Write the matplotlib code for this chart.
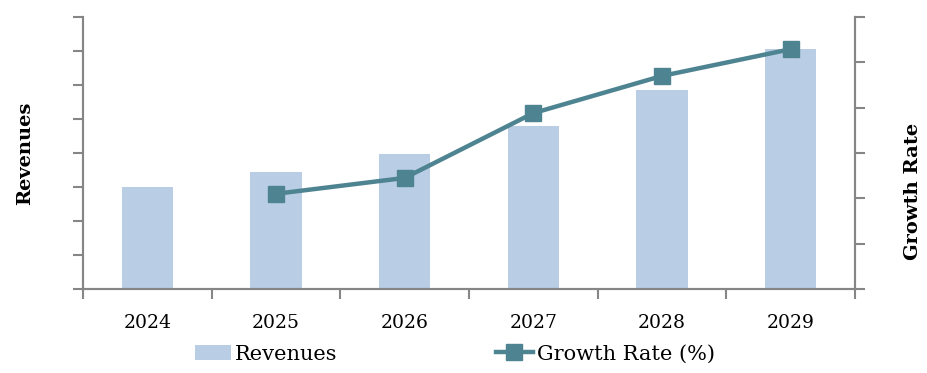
import numpy as np
import matplotlib.pyplot as plt

years = ["2024", "2025", "2026", "2027", "2028", "2029"]
revenues = [3.0, 3.44, 3.97, 4.79, 5.85, 7.06]
growth_years = ["2025", "2026", "2027", "2028", "2029"]
growth_rate = [2.1, 2.45, 3.88, 4.70, 5.29]

bar_color = "#B9CDE5"
line_color = "#4E8491"
axis_color = "#868686"

plt.rcParams["font.family"] = ["DejaVu Serif"]

fig = plt.figure(figsize=(9.28, 3.73), dpi=100)
ax = fig.add_axes([83 / 928, 84 / 373, 772 / 928, 272 / 373])
ax2 = ax.twinx()

x = np.arange(len(years))
ax.bar(x, revenues, width=0.4, color=bar_color, label="Revenues", zorder=1)
gx = [years.index(y) for y in growth_years]
ax2.plot(gx, growth_rate, color=line_color, lw=3.2, marker="s", ms=12,
         label="Growth Rate (%)", zorder=3)

ax.set_xlim(-0.5, len(years) - 0.5)
ax.set_ylim(0, 8)
ax2.set_ylim(0, 6)
ax.set_yticks(np.arange(0, 9))
ax2.set_yticks(np.arange(0, 7))
ax.set_yticklabels([])
ax2.set_yticklabels([])

# boundary ticks between categories, labels centred under bars
ax.set_xticks(np.arange(-0.5, len(years)))
ax.set_xticklabels([])
ax.set_xticks(x, minor=True)
ax.set_xticklabels(years, minor=True, fontsize=13.5)
ax.tick_params(axis="x", which="minor", length=0, pad=18)
ax.tick_params(axis="x", which="major", length=7, width=1.5, color=axis_color, direction="out")
ax.tick_params(axis="y", length=7, width=1.5, color=axis_color, direction="out")
ax2.tick_params(axis="y", length=7, width=1.5, color=axis_color, direction="out")

for a in (ax, ax2):
    a.spines["top"].set_visible(False)
    for s in ("left", "right", "bottom"):
        a.spines[s].set_color(axis_color)
        a.spines[s].set_linewidth(1.5)

ax.set_ylabel("Revenues", fontsize=14, fontweight="bold")
ax.yaxis.set_label_coords(-0.0635, 0.5)
ax2.set_ylabel("Growth Rate", fontsize=14, fontweight="bold", rotation=90)
ax2.yaxis.set_label_coords(1.063, 0.36)

ax.set_zorder(ax2.get_zorder() - 1)
ax2.patch.set_visible(False)

h1, l1 = ax.get_legend_handles_labels()
h2, l2 = ax2.get_legend_handles_labels()
fig.legend(h1 + h2, l1 + l2, loc="center", bbox_to_anchor=(0.49, 19 / 373), ncol=2,
           frameon=False, fontsize=15, columnspacing=7.6, handlelength=1.75,
           handletextpad=0.2)

fig.savefig("out.png", dpi=100)
